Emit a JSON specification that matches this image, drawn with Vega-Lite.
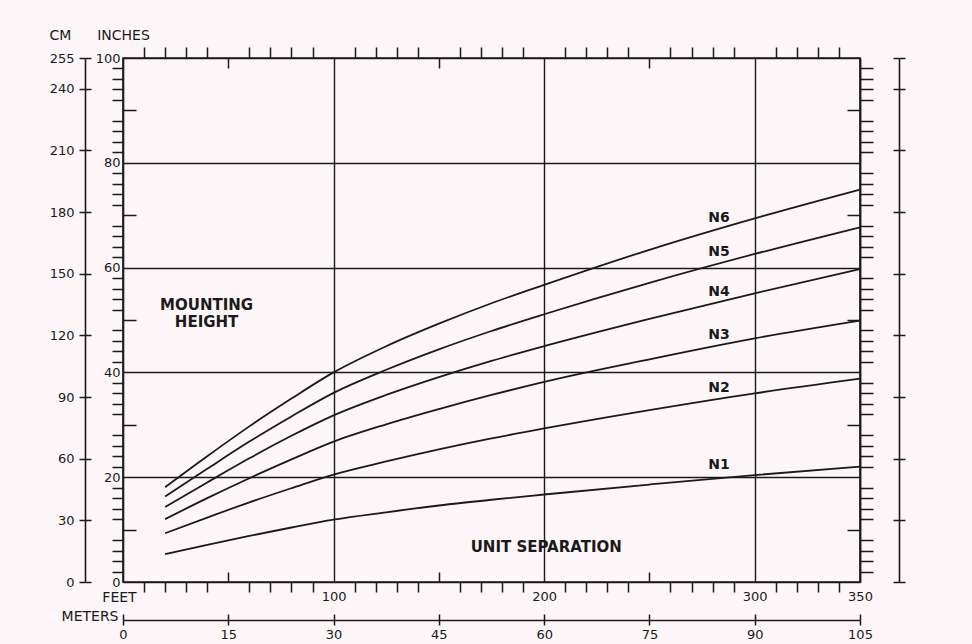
{
  "$schema": "https://vega.github.io/schema/vega-lite/v6.json",
  "autosize": {"type": "none"},
  "width": 737,
  "height": 524,
  "padding": {"left": 123, "top": 58, "right": 112, "bottom": 62},
  "background": "#fcf6f8",
  "config": {
    "view": {"fill": "#fcf6f8", "stroke": "#1a1a1a", "strokeWidth": 1.6},
    "axis": {
      "tickColor": "#1a1a1a", "domainColor": "#1a1a1a", "gridColor": "#1a1a1a",
      "tickWidth": 1.5, "domainWidth": 1.6, "gridWidth": 1.4, "gridOpacity": 1,
      "labelFont": "DejaVu Sans", "labelFontSize": 13, "labelColor": "#1a1a1a",
      "labelFlush": false, "labelOverlap": false, "labelBound": false,
      "titleFont": "DejaVu Sans", "titleFontWeight": "normal", "titleFontSize": 14, "titleColor": "#1a1a1a",
      "titleAngle": 0, "titleAlign": "center", "titleBaseline": "middle"
    }
  },
  "datasets": {
    "curves": [
      {"curve": "N6", "feet": 20, "inches": 18.1}, {"curve": "N6", "feet": 40, "inches": 24.0}, {"curve": "N6", "feet": 60, "inches": 29.7}, {"curve": "N6", "feet": 80, "inches": 35.0}, {"curve": "N6", "feet": 100, "inches": 40.0}, {"curve": "N6", "feet": 125, "inches": 45.0}, {"curve": "N6", "feet": 150, "inches": 49.3}, {"curve": "N6", "feet": 175, "inches": 53.2}, {"curve": "N6", "feet": 200, "inches": 56.7}, {"curve": "N6", "feet": 250, "inches": 63.4}, {"curve": "N6", "feet": 300, "inches": 69.4}, {"curve": "N6", "feet": 350, "inches": 74.9},
      {"curve": "N5", "feet": 20, "inches": 16.3}, {"curve": "N5", "feet": 40, "inches": 21.6}, {"curve": "N5", "feet": 60, "inches": 26.8}, {"curve": "N5", "feet": 80, "inches": 31.6}, {"curve": "N5", "feet": 100, "inches": 36.1}, {"curve": "N5", "feet": 125, "inches": 40.5}, {"curve": "N5", "feet": 150, "inches": 44.4}, {"curve": "N5", "feet": 175, "inches": 47.9}, {"curve": "N5", "feet": 200, "inches": 51.1}, {"curve": "N5", "feet": 250, "inches": 57.1}, {"curve": "N5", "feet": 300, "inches": 62.6}, {"curve": "N5", "feet": 350, "inches": 67.7},
      {"curve": "N4", "feet": 20, "inches": 14.3}, {"curve": "N4", "feet": 40, "inches": 19.0}, {"curve": "N4", "feet": 60, "inches": 23.6}, {"curve": "N4", "feet": 80, "inches": 27.9}, {"curve": "N4", "feet": 100, "inches": 31.8}, {"curve": "N4", "feet": 125, "inches": 35.7}, {"curve": "N4", "feet": 150, "inches": 39.1}, {"curve": "N4", "feet": 175, "inches": 42.2}, {"curve": "N4", "feet": 200, "inches": 45.0}, {"curve": "N4", "feet": 250, "inches": 50.2}, {"curve": "N4", "feet": 300, "inches": 55.1}, {"curve": "N4", "feet": 350, "inches": 59.7},
      {"curve": "N3", "feet": 20, "inches": 12.0}, {"curve": "N3", "feet": 40, "inches": 16.0}, {"curve": "N3", "feet": 60, "inches": 19.8}, {"curve": "N3", "feet": 80, "inches": 23.4}, {"curve": "N3", "feet": 100, "inches": 26.8}, {"curve": "N3", "feet": 125, "inches": 30.1}, {"curve": "N3", "feet": 150, "inches": 33.0}, {"curve": "N3", "feet": 175, "inches": 35.7}, {"curve": "N3", "feet": 200, "inches": 38.2}, {"curve": "N3", "feet": 250, "inches": 42.5}, {"curve": "N3", "feet": 300, "inches": 46.5}, {"curve": "N3", "feet": 350, "inches": 49.9},
      {"curve": "N2", "feet": 20, "inches": 9.3}, {"curve": "N2", "feet": 40, "inches": 12.3}, {"curve": "N2", "feet": 60, "inches": 15.2}, {"curve": "N2", "feet": 80, "inches": 17.9}, {"curve": "N2", "feet": 100, "inches": 20.5}, {"curve": "N2", "feet": 125, "inches": 23.0}, {"curve": "N2", "feet": 150, "inches": 25.3}, {"curve": "N2", "feet": 175, "inches": 27.4}, {"curve": "N2", "feet": 200, "inches": 29.3}, {"curve": "N2", "feet": 250, "inches": 32.8}, {"curve": "N2", "feet": 300, "inches": 36.0}, {"curve": "N2", "feet": 350, "inches": 38.8},
      {"curve": "N1", "feet": 20, "inches": 5.3}, {"curve": "N1", "feet": 40, "inches": 7.1}, {"curve": "N1", "feet": 60, "inches": 8.8}, {"curve": "N1", "feet": 80, "inches": 10.4}, {"curve": "N1", "feet": 100, "inches": 11.9}, {"curve": "N1", "feet": 125, "inches": 13.3}, {"curve": "N1", "feet": 150, "inches": 14.6}, {"curve": "N1", "feet": 175, "inches": 15.7}, {"curve": "N1", "feet": 200, "inches": 16.7}, {"curve": "N1", "feet": 250, "inches": 18.6}, {"curve": "N1", "feet": 300, "inches": 20.4}, {"curve": "N1", "feet": 350, "inches": 22.0}
    ],
    "labels": [
      {"label": "N6", "feet": 283, "inches": 69.5},
      {"label": "N5", "feet": 283, "inches": 63.0},
      {"label": "N4", "feet": 283, "inches": 55.4},
      {"label": "N3", "feet": 283, "inches": 47.1},
      {"label": "N2", "feet": 283, "inches": 37.0},
      {"label": "N1", "feet": 283, "inches": 22.3}
    ],
    "notes": [
      {"text": "MOUNTING\nHEIGHT", "feet": 39.7, "inches": 52.9},
      {"text": "UNIT SEPARATION", "feet": 201, "inches": 6.7}
    ],
    "anchor": [{"a": 0, "b": 0}]
  },
  "resolve": {"scale": {"x": "independent", "y": "independent"}, "axis": {"x": "independent", "y": "independent"}},
  "layer": [
    {
      "data": {"name": "curves"},
      "mark": {"type": "line", "color": "#1a1a1a", "strokeWidth": 1.8, "interpolate": "monotone"},
      "encoding": {
        "detail": {"field": "curve", "type": "nominal"},
        "x": {"field": "feet", "type": "quantitative", "scale": {"domain": [0, 350], "nice": false},
          "axis": {"orient": "bottom", "values": [100, 200, 300, 350], "ticks": false, "domain": false, "grid": true, "labelPadding": 8,
            "title": "FEET", "titleX": -4, "titleY": 15}},
        "y": {"field": "inches", "type": "quantitative", "scale": {"domain": [0, 100], "nice": false},
          "axis": {"orient": "left", "values": [0, 20, 40, 60, 80, 100], "ticks": false, "domain": false, "grid": true, "labelPadding": 3,
            "title": "INCHES", "titleX": 0, "titleY": -23}}
      }
    },
    {
      "data": {"name": "anchor"},
      "mark": {"type": "point", "opacity": 0},
      "encoding": {
        "x": {"field": "a", "type": "quantitative", "scale": {"domain": [0, 350], "nice": false},
          "axis": {"orient": "bottom", "values": [10,20,30,40,60,70,80,90,110,120,130,140,160,170,180,190,210,220,230,240,260,270,280,290,310,320,330,340], "tickSize": 10, "labels": false, "domain": false, "grid": false, "title": null}},
        "y": {"field": "b", "type": "quantitative", "scale": {"domain": [0, 100], "nice": false},
          "axis": {"orient": "left", "values": [2,4,6,8,12,14,16,18,22,24,26,28,32,34,36,38,42,44,46,48,52,54,56,58,62,64,66,68,72,74,76,78,82,84,86,88,92,94,96,98], "tickSize": 11, "labels": false, "domain": true, "grid": false, "title": null}}
      }
    },
    {
      "data": {"name": "anchor"},
      "mark": {"type": "point", "opacity": 0},
      "encoding": {
        "x": {"field": "a", "type": "quantitative", "scale": {"domain": [0, 350], "nice": false},
          "axis": {"orient": "bottom", "values": [50, 150, 250], "tickSize": -10, "labels": false, "domain": false, "grid": false, "title": null}},
        "y": {"field": "b", "type": "quantitative", "scale": {"domain": [0, 100], "nice": false},
          "axis": {"orient": "left", "values": [10, 30, 50, 70, 90], "tickSize": -13, "labels": false, "domain": false, "grid": false, "title": null}}
      }
    },
    {
      "data": {"name": "anchor"},
      "mark": {"type": "point", "opacity": 0},
      "encoding": {
        "x": {"field": "a", "type": "quantitative", "scale": {"domain": [0, 350], "nice": false},
          "axis": {"orient": "top", "values": [10,20,30,40,60,70,80,90,110,120,130,140,160,170,180,190,210,220,230,240,260,270,280,290,310,320,330,340], "tickSize": 11, "labels": false, "domain": false, "grid": false, "title": null}},
        "y": {"field": "b", "type": "quantitative", "scale": {"domain": [0, 100], "nice": false},
          "axis": {"orient": "right", "values": [2,4,6,8,12,14,16,18,22,24,26,28,32,34,36,38,42,44,46,48,52,54,56,58,62,64,66,68,72,74,76,78,82,84,86,88,92,94,96,98], "tickSize": 13, "labels": false, "domain": true, "grid": false, "title": null}}
      }
    },
    {
      "data": {"name": "anchor"},
      "mark": {"type": "point", "opacity": 0},
      "encoding": {
        "x": {"field": "a", "type": "quantitative", "scale": {"domain": [0, 350], "nice": false},
          "axis": {"orient": "top", "values": [50, 150, 250], "tickSize": -10, "labels": false, "domain": false, "grid": false, "title": null}},
        "y": {"field": "b", "type": "quantitative", "scale": {"domain": [0, 100], "nice": false},
          "axis": {"orient": "right", "values": [10, 30, 50, 70, 90], "tickSize": -13, "labels": false, "domain": false, "grid": false, "title": null}}
      }
    },
    {
      "data": {"name": "anchor"},
      "mark": {"type": "point", "opacity": 0},
      "encoding": {
        "x": {"field": "a", "type": "quantitative", "scale": {"domain": [0, 105], "nice": false},
          "axis": {"orient": "bottom", "offset": 38, "values": [0, 15, 30, 45, 60, 75, 90, 105], "tickSize": 5, "labels": true, "labelPadding": 3, "domain": true, "grid": false,
            "title": "METERS", "titleX": -5, "titleY": -4, "titleAlign": "right"}},
        "y": {"field": "b", "type": "quantitative", "scale": {"domain": [0, 255], "nice": false},
          "axis": {"orient": "left", "offset": 38, "values": [0, 30, 60, 90, 120, 150, 180, 210, 240, 255], "tickSize": 6, "labels": true, "labelPadding": 5, "domain": true, "grid": false,
            "title": "CM", "titleX": -25, "titleY": -23}}
      }
    },
    {
      "data": {"name": "anchor"},
      "mark": {"type": "point", "opacity": 0},
      "encoding": {
        "x": {"field": "a", "type": "quantitative", "scale": {"domain": [0, 105], "nice": false},
          "axis": {"orient": "bottom", "offset": 38, "values": [0, 15, 30, 45, 60, 75, 90, 105], "tickSize": -6, "labels": false, "domain": false, "grid": false, "title": null}},
        "y": {"field": "b", "type": "quantitative", "scale": {"domain": [0, 255], "nice": false},
          "axis": {"orient": "left", "offset": 38, "values": [0, 30, 60, 90, 120, 150, 180, 210, 240, 255], "tickSize": -6, "labels": false, "domain": false, "grid": false, "title": null}}
      }
    },
    {
      "data": {"name": "anchor"},
      "mark": {"type": "point", "opacity": 0},
      "encoding": {
        "x": {"field": "a", "type": "quantitative", "scale": {"domain": [0, 350], "nice": false}, "axis": null},
        "y": {"field": "b", "type": "quantitative", "scale": {"domain": [0, 255], "nice": false},
          "axis": {"orient": "right", "offset": 39, "values": [0, 30, 60, 90, 120, 150, 180, 210, 240, 255], "tickSize": 6, "labels": false, "domain": true, "grid": false, "title": null}}
      }
    },
    {
      "data": {"name": "anchor"},
      "mark": {"type": "point", "opacity": 0},
      "encoding": {
        "x": {"field": "a", "type": "quantitative", "scale": {"domain": [0, 350], "nice": false}, "axis": null},
        "y": {"field": "b", "type": "quantitative", "scale": {"domain": [0, 255], "nice": false},
          "axis": {"orient": "right", "offset": 39, "values": [0, 30, 60, 90, 120, 150, 180, 210, 240, 255], "tickSize": -6, "labels": false, "domain": false, "grid": false, "title": null}}
      }
    },
    {
      "data": {"name": "labels"},
      "mark": {"type": "text", "font": "DejaVu Sans", "fontWeight": "bold", "fontSize": 14, "color": "#1a1a1a", "align": "center", "baseline": "middle"},
      "encoding": {
        "x": {"field": "feet", "type": "quantitative", "scale": {"domain": [0, 350], "nice": false}, "axis": null},
        "y": {"field": "inches", "type": "quantitative", "scale": {"domain": [0, 100], "nice": false}, "axis": null},
        "text": {"field": "label", "type": "nominal"}
      }
    },
    {
      "data": {"name": "notes"},
      "mark": {"type": "text", "font": "DejaVu Sans", "fontWeight": "bold", "fontSize": 15, "color": "#1a1a1a", "align": "center", "baseline": "middle", "lineBreak": "\n", "lineHeight": 17},
      "encoding": {
        "x": {"field": "feet", "type": "quantitative", "scale": {"domain": [0, 350], "nice": false}, "axis": null},
        "y": {"field": "inches", "type": "quantitative", "scale": {"domain": [0, 100], "nice": false}, "axis": null},
        "text": {"field": "text", "type": "nominal"}
      }
    }
  ]
}
